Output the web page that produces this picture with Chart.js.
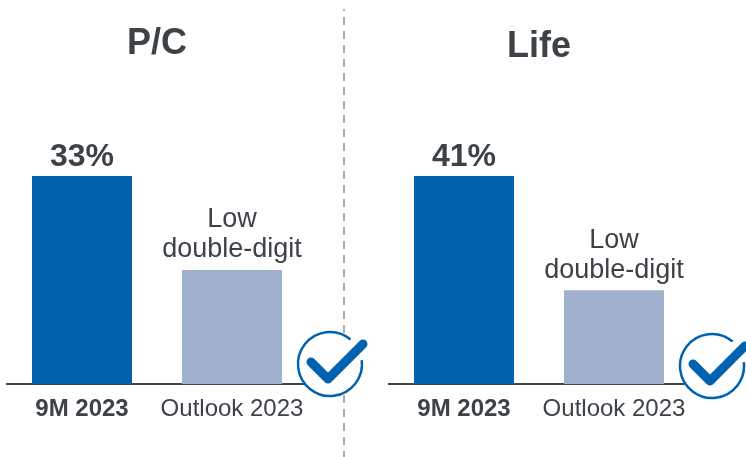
<!DOCTYPE html>
<html>
<head>
<meta charset="utf-8">
<style>
html,body{margin:0;padding:0;background:#fff;width:746px;height:457px;overflow:hidden}
canvas{position:absolute;top:0}
</style>
<script src="https://cdn.jsdelivr.net/npm/chart.js@4"></script>
</head>
<body>
<canvas id="pc" width="373" height="457" style="left:0"></canvas>
<canvas id="life" width="373" height="457" style="left:373px"></canvas>
<script>
const categories = ["9M 2023", "Outlook 2023"];
const pcValues = [33, 18.1];
const lifeValues = [41, 18.5];
const pcLabels = [["33%"], ["Low", "double-digit"]];
const lifeLabels = [["41%"], ["Low", "double-digit"]];
const panelTitles = ["P/C", "Life"];
const barColors = ["#0062AF", "#9FB1CF"];
const INK = "#3C4248";
const FONT = '"Liberation Sans", Arial, sans-serif';

const barLabels = {
  id: "barLabels",
  afterDatasetsDraw(chart, args, opts) {
    const ctx = chart.ctx, meta = chart.getDatasetMeta(0);
    ctx.save();
    ctx.textAlign = "center";
    ctx.textBaseline = "middle";
    ctx.fillStyle = INK;
    meta.data.forEach((bar, i) => {
      const lines = opts.labels[i];
      ctx.font = (i === 0 ? "bold 32px " : "27px ") + FONT;
      const step = 30;
      const offset = i === 0 ? 19 : 20;
      lines.forEach((line, k) => {
        ctx.fillText(line, bar.x, bar.y - offset - (lines.length - 1 - k) * step);
      });
    });
    ctx.restore();
  }
};

const decorations = {
  id: "decorations",
  afterDraw(chart, args, opts) {
    const ctx = chart.ctx;
    ctx.save();
    if (opts.divider) {
      ctx.strokeStyle = "#ABABAB";
      ctx.lineWidth = 2;
      ctx.setLineDash([8, 6]);
      ctx.lineDashOffset = 6;
      ctx.beginPath();
      ctx.moveTo(opts.divider, 9);
      ctx.lineTo(opts.divider, 457);
      ctx.stroke();
      ctx.setLineDash([]);
    }
    const cx = opts.cx, cy = opts.cy;
    ctx.fillStyle = "#fff";
    ctx.beginPath();
    ctx.arc(cx, cy, 33, 0, Math.PI * 2);
    ctx.fill();
    ctx.strokeStyle = "#0062AF";
    ctx.lineWidth = 2.5;
    ctx.beginPath();
    ctx.arc(cx, cy, 32, -7 * Math.PI / 180, -50 * Math.PI / 180);
    ctx.stroke();
    ctx.lineWidth = 9;
    ctx.lineCap = "round";
    ctx.lineJoin = "round";
    ctx.beginPath();
    ctx.moveTo(cx - 19, cy - 2);
    ctx.lineTo(cx - 2, cy + 15);
    ctx.lineTo(cx + 33, cy - 20);
    ctx.stroke();
    ctx.restore();
  }
};

function makePanel(id, title, values, labels, yMax, titleTop, pad, deco) {
  return new Chart(document.getElementById(id), {
    type: "bar",
    data: {
      labels: categories,
      datasets: [{ data: values, backgroundColor: barColors, categoryPercentage: 1, barPercentage: 2 / 3, borderWidth: 0 }]
    },
    plugins: [barLabels, decorations],
    options: {
      responsive: false,
      animation: false,
      layout: { padding: pad },
      plugins: {
        legend: { display: false },
        tooltip: { enabled: false },
        title: {
          display: true, text: title, color: INK, fullSize: false,
          font: { family: FONT, size: 36, weight: "bold", lineHeight: 1.2 },
          padding: { top: titleTop, bottom: 29 - titleTop }
        },
        barLabels: { labels },
        decorations: deco
      },
      scales: {
        y: { display: false, min: 0, max: yMax },
        x: {
          grid: { display: false, drawTicks: false },
          border: { display: true, color: "#3F4449", width: 2 },
          ticks: {
            color: INK, padding: 11, maxRotation: 0, autoSkip: false,
            font: c => ({ family: FONT, size: 24, weight: c.index === 0 ? "bold" : "normal" })
          }
        }
      }
    }
  });
}

makePanel("pc", panelTitles[0], pcValues, pcLabels, 49.45, 22,
  { left: 7, right: 66, top: 0, bottom: 22 }, { divider: 344, cx: 330, cy: 364 });
makePanel("life", panelTitles[1], lifeValues, lifeLabels, 61.45, 25,
  { left: 16, right: 57, top: 0, bottom: 22 }, { divider: 0, cx: 339, cy: 366 });
</script>
</body>
</html>
